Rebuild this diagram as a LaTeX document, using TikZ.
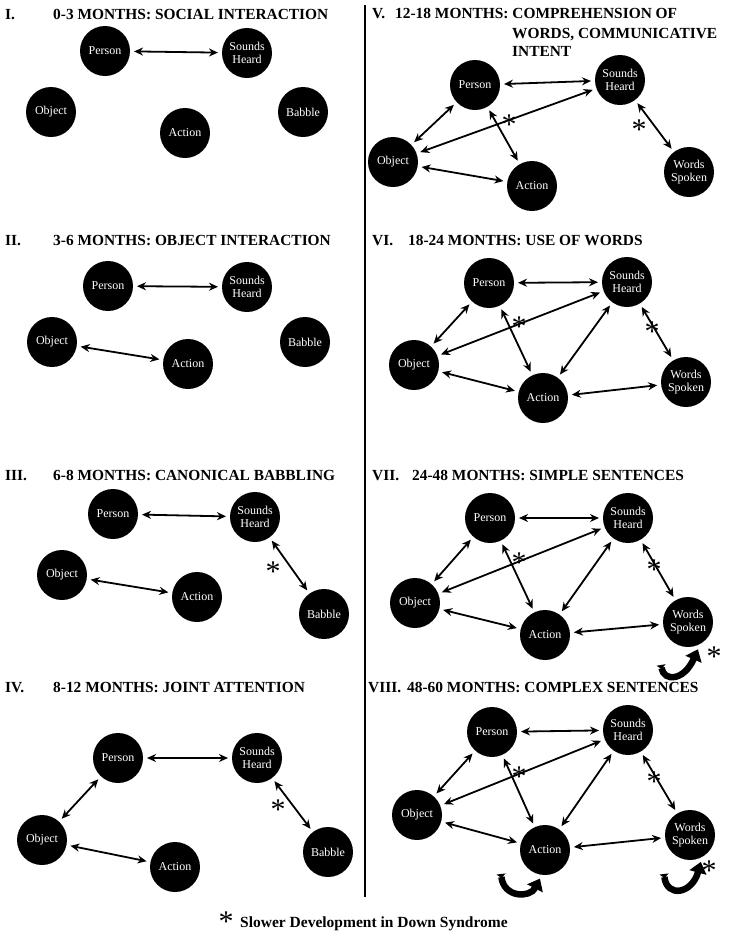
\documentclass[tikz,border=0pt]{standalone}
\usepackage{fontspec}
\setmainfont{Liberation Serif}
\usetikzlibrary{positioning,arrows.meta}

\begin{document}
\begin{tikzpicture}[x=1pt,y=-1pt,
   bubble/.style={circle,fill=black,text=white,minimum size=50pt,inner sep=0pt,outer sep=4pt,align=center,font=\fontsize{12}{13}\selectfont},
   link/.style={<->,>={Stealth[length=9pt,width=8pt]},line width=1.8pt},
   curl/.style={line width=6.5pt,{Triangle[reversed,length=4pt,width=9pt]}-{Triangle[length=11pt,width=17pt]}},
   heading/.style={anchor=base west,inner sep=0pt,font=\fontsize{15.4}{18}\selectfont\bfseries},
   star/.style={inner sep=0pt,yshift=-5pt,font=\fontsize{30}{30}\selectfont}]
   \useasboundingbox (0,0) rectangle (730,938);
   \draw[line width=2.2pt] (365,5) -- (365,897);

   \node[heading] (h_1) at (5,19) {I.};
   \node[heading] (t_1) at (53,19) {0-3 MONTHS: SOCIAL INTERACTION};
   \node[bubble] (p_1) at (105,51) {Person};
   \node[bubble] (s_1) at (247,53) {Sounds\\Heard};
   \node[bubble] (o_1) at (51,112) {Object};
   \node[bubble] (a_1) at (185,133) {Action};
   \node[bubble] (b_1) at (303,112) {Babble};

   \node[heading] (h_2) at (5,245) {II.};
   \node[heading] (t_2) at (53,245) {3-6 MONTHS: OBJECT INTERACTION};
   \node[bubble] (p_2) at (108,286) {Person};
   \node[bubble] (s_2) at (247,287) {Sounds\\Heard};
   \node[bubble] (o_2) at (52,342) {Object};
   \node[bubble] (a_2) at (188,364) {Action};
   \node[bubble] (b_2) at (305,342) {Babble};

   \node[heading] (h_3) at (5,480) {III.};
   \node[heading] (t_3) at (53,480) {6-8 MONTHS: CANONICAL BABBLING};
   \node[bubble] (p_3) at (113,514) {Person};
   \node[bubble] (s_3) at (255,517) {Sounds\\Heard};
   \node[bubble] (o_3) at (62,575) {Object};
   \node[bubble] (a_3) at (197,597) {Action};
   \node[bubble] (b_3) at (324,614) {Babble};
   \node[star] (x_3) at (273,567) {*};

   \node[heading] (h_4) at (5,692) {IV.};
   \node[heading] (t_4) at (53,692) {8-12 MONTHS: JOINT ATTENTION};
   \node[bubble] (p_4) at (118,758) {Person};
   \node[bubble] (s_4) at (257,758) {Sounds\\Heard};
   \node[bubble] (o_4) at (42,840) {Object};
   \node[bubble] (a_4) at (175,867) {Action};
   \node[bubble] (b_4) at (328,852) {Babble};
   \node[star] (x_4) at (278,805) {*};

   \node[heading] (h_5) at (372,18) {V.};
   \node[heading] (t_5) at (395,18) {12-18 MONTHS: COMPREHENSION OF};
   \node[heading] (t_5b) at (512,38) {WORDS, COMMUNICATIVE};
   \node[heading] (t_5c) at (512,56) {INTENT};
   \node[bubble] (p_5) at (475,85) {Person};
   \node[bubble] (s_5) at (620,80) {Sounds\\Heard};
   \node[bubble] (o_5) at (393,162) {Object};
   \node[bubble] (a_5) at (532,186) {Action};
   \node[bubble] (w_5) at (689,172) {Words\\Spoken};
   \node[star] (x_5a) at (509,120) {*};
   \node[star] (x_5b) at (639,125) {*};

   \node[heading] (h_6) at (372,245) {VI.};
   \node[heading] (t_6) at (408,245) {18-24 MONTHS: USE OF WORDS};
   \node[bubble] (p_6) at (489,283) {Person};
   \node[bubble] (s_6) at (627,282) {Sounds\\Heard};
   \node[bubble] (o_6) at (414,365) {Object};
   \node[bubble] (a_6) at (543,398) {Action};
   \node[bubble] (w_6) at (686,382) {Words\\Spoken};
   \node[star] (x_6a) at (519,322) {*};
   \node[star] (x_6b) at (652,327) {*};

   \node[heading] (h_7) at (372,480) {VII.};
   \node[heading] (t_7) at (412,480) {24-48 MONTHS: SIMPLE SENTENCES};
   \node[bubble] (p_7) at (490,518) {Person};
   \node[bubble] (s_7) at (628,518) {Sounds\\Heard};
   \node[bubble] (o_7) at (415,603) {Object};
   \node[bubble] (a_7) at (545,635) {Action};
   \node[bubble] (w_7) at (688,622) {Words\\Spoken};
   \node[star] (x_7a) at (519,558) {*};
   \node[star] (x_7b) at (654,565) {*};
   \node[star] (x_7c) at (714,652) {*};
   \coordinate (c_7) at (661,665);

   \node[heading] (h_8) at (368,692) {VIII.};
   \node[heading] (t_8) at (407,692) {48-60 MONTHS: COMPLEX SENTENCES};
   \node[bubble] (p_8) at (492,732) {Person};
   \node[bubble] (s_8) at (628,730) {Sounds\\Heard};
   \node[bubble] (o_8) at (417,815) {Object};
   \node[bubble] (a_8) at (545,850) {Action};
   \node[bubble] (w_8) at (690,835) {Words\\Spoken};
   \node[star] (x_8a) at (519,772) {*};
   \node[star] (x_8b) at (654,777) {*};
   \node[star] (x_8c) at (709,866) {*};
   \coordinate (c_8a) at (501,874);
   \coordinate (c_8b) at (664,874);

   \node[star] (x_l) at (226,917) {*};
   \node[anchor=base west,inner sep=0pt,font=\fontsize{15.5}{18}\selectfont\bfseries] (legend) at (240,927) {Slower Development in Down Syndrome};

    \path[link]
    (p_1) edge (s_1)
    (p_2) edge (s_2)
    (o_2) edge (a_2)
    (p_3) edge (s_3)
    (o_3) edge (a_3)
    (s_3) edge (b_3)
    (p_4) edge (s_4)
          edge (o_4)
    (o_4) edge (a_4)
    (s_4) edge (b_4)
    (p_5) edge (s_5)
          edge (o_5)
          edge (a_5)
    (o_5) edge (s_5)
          edge (a_5)
    (s_5) edge (w_5)
    (p_6) edge (s_6)
          edge (o_6)
          edge (a_6)
    (o_6) edge (s_6)
          edge (a_6)
    (s_6) edge (a_6)
          edge (w_6)
    (a_6) edge (w_6)
    (p_7) edge (s_7)
          edge (o_7)
          edge (a_7)
    (o_7) edge (s_7)
          edge (a_7)
    (s_7) edge (a_7)
          edge (w_7)
    (a_7) edge (w_7)
    (p_8) edge (s_8)
          edge (o_8)
          edge (a_8)
    (o_8) edge (s_8)
          edge (a_8)
    (s_8) edge (a_8)
          edge (w_8)
    (a_8) edge (w_8);

    \draw[curl] (c_7) .. controls (664,682) and (684,681) .. (w_7.-70);
    \draw[curl] (c_8a) .. controls (504,898) and (530,898) .. (a_8.-100);
    \draw[curl] (c_8b) .. controls (667,898) and (692,894) .. (w_8.-68);
\end{tikzpicture}
\end{document}
